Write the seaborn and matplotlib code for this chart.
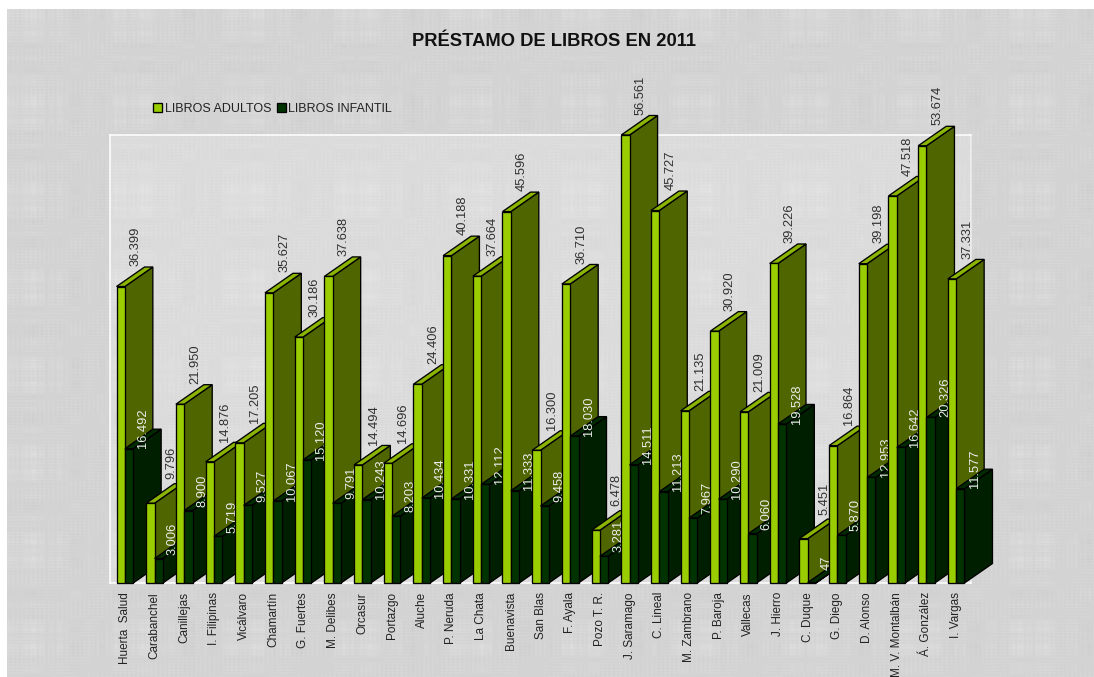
import numpy as np
import pandas as pd
import matplotlib
matplotlib.use("Agg")
import matplotlib.pyplot as plt
from matplotlib.patches import Polygon
import seaborn as sns

sucursales = ["Huerta  Salud", "Carabanchel", "Canillejas", "I. Filipinas", "Vicálvaro",
              "Chamartín", "G. Fuertes", "M. Delibes", "Orcasur", "Portazgo", "Aluche",
              "P. Neruda", "La Chata", "Buenavista", "San Blas", "F. Ayala", "Pozo T. R.",
              "J. Saramago", "C. Lineal", "M. Zambrano", "P. Baroja", "Vallecas", "J. Hierro",
              "C. Duque", "G. Diego", "D. Alonso", "M. V. Montalbán", "Á. González", "I. Vargas"]
libros_adultos = [36399, 9796, 21950, 14876, 17205, 35627, 30186, 37638, 14494, 14696,
                  24406, 40188, 37664, 45596, 16300, 36710, 6478, 56561, 45727, 21135,
                  30920, 21009, 39226, 5451, 16864, 39198, 47518, 53674, 37331]
libros_infantil = [16492, 3006, 8900, 5719, 9527, 10067, 15120, 9791, 10243, 8203,
                   10434, 10331, 12112, 11333, 9458, 18030, 3281, 14511, 11213, 7967,
                   10290, 6060, 19528, 47, 5870, 12953, 16642, 20326, 11577]
series_names = ["LIBROS ADULTOS", "LIBROS INFANTIL"]

Y_MAX = 55000
W, H = 1094, 677

sns.set_theme(style="white")
plt.rcParams["font.family"] = ["Liberation Sans", "DejaVu Sans"]

fig = plt.figure(figsize=(W / 100, H / 100), dpi=100, facecolor="white")


def px_axes(x0, y0, x1, y1, **kw):
    return fig.add_axes([x0 / W, 1 - y1 / H, (x1 - x0) / W, (y1 - y0) / H], **kw)


# Woven grey backdrop (purely decorative, deterministic)
bg = px_axes(7, 9, W, H, zorder=-5)
yy, xx = np.mgrid[0:H - 9, 0:W - 7]
ux = xx * 2 * np.pi / 256
uy = yy * 2 * np.pi / 116
col = np.sin(ux * 2.3 + 0.4) + 0.7 * np.sin(ux * 9.1 + 2.1) + 0.6 * np.sin(ux * 29.7 + 1.3) * np.sin(ux * 1.7)
row = np.sin(uy * 1.3 + 1.1) + 0.7 * np.sin(uy * 5.3 + 0.3) + 0.6 * np.sin(uy * 13.9 + 2.5) * np.sin(uy * 0.7)
texture = (212 + 0.8 * col + 0.8 * row + 1.3 * col * row
           + 0.9 * np.sin(ux * 57.3) * (1 + np.sin(uy * 2.9 + ux * 1.1))
           + 0.9 * np.sin(uy * 37.1) * (1 + np.sin(ux * 4.7 + uy * 0.9)))
bg.imshow(texture, cmap="gray", vmin=0, vmax=255, aspect="auto", interpolation="bilinear")
bg.axis("off")

# Plot area
PX_L, PX_T, PX_R, PX_B = 110, 135, 971, 583
ax = px_axes(PX_L, PX_T, PX_R, PX_B, zorder=1)
ax.patch.set_facecolor("white")
ax.patch.set_alpha(0.2)

df = pd.DataFrame({
    "sucursal": sucursales * 2,
    "serie": [series_names[0]] * len(sucursales) + [series_names[1]] * len(sucursales),
    "prestamos": libros_adultos + libros_infantil,
})
front = {series_names[0]: "#9ACD00", series_names[1]: "#003300"}
side = ["#4F6500", "#001F00"]
top = ["#8AB400", "#002A00"]
label_col = ["#303030", "#EDEDED"]
label_rise = [40, 20]   # px above the bar top

sns.barplot(data=df, x="sucursal", y="prestamos", hue="serie", order=sucursales,
            hue_order=series_names, palette=front, width=0.56, saturation=1,
            edgecolor="black", linewidth=0.95, ax=ax, legend=True)

ax.set_xlim(-0.5, 28.5)
ax.set_ylim(0, Y_MAX)
ax.set_xlabel("")
ax.set_ylabel("")
ax.set_yticks([])
ax.tick_params(axis="x", length=0, pad=6.5, labelsize=8.5, labelcolor="#222222")
for t in ax.get_xticklabels():
    t.set_rotation(90)
    t.set_ha("center")
    t.set_va("top")

for s in ax.spines.values():
    s.set_color("white")
    s.set_linewidth(1.1)
    s.set_visible(True)
ax.spines["right"].set_alpha(0.6)

# Extrude the bars (oblique depth measured in pixels, converted to data units)
xu = (PX_R - PX_L) / 29
yu = (PX_B - PX_T) / Y_MAX
dx, dy = 28 / xu, 19.5 / yu
edge = dict(edgecolor="black", linewidth=0.95, clip_on=False, joinstyle="miter")

for s_i, cont in enumerate(ax.containers):
    for i, bar in enumerate(cont.patches):
        raw = int(round(bar.get_height()))
        h = min(raw, Y_MAX)
        bar.set_height(h)
        bar.set_clip_on(False)
        base_z = 5 + i * 10 + s_i * 4
        bar.set_zorder(base_z + 2)
        x0 = bar.get_x()
        x1 = x0 + bar.get_width()
        ax.add_patch(Polygon([(x1, 0), (x1 + dx, dy), (x1 + dx, h + dy), (x1, h)],
                             closed=True, facecolor=side[s_i], zorder=base_z, **edge))
        ax.add_patch(Polygon([(x0, h), (x1, h), (x1 + dx, h + dy), (x0 + dx, h + dy)],
                             closed=True, facecolor=top[s_i], zorder=base_z + 1, **edge))
        shift = 18.5 if s_i == 1 else (25 if raw < 10000 else 19.5)
        ax.text(x0 + shift / xu, h + label_rise[s_i] / yu, f"{raw:,}".replace(",", "."),
                rotation=90, ha="center", va="center", fontsize=9.3,
                color=label_col[s_i], zorder=base_z + 3, clip_on=False)

# Legend
handles, labels = ax.get_legend_handles_labels()
ax.get_legend().remove()
leg = fig.legend(handles, labels, ncol=2, frameon=False, fontsize=9.0,
                 loc="center left", bbox_to_anchor=(153 / W, 1 - 108.5 / H),
                 handlelength=0.75, handleheight=0.75, handletextpad=0.2,
                 columnspacing=0.42, labelcolor="#222222", borderpad=0, borderaxespad=0)

fig.text(553.5 / W, 1 - 45.5 / H, "PRÉSTAMO DE LIBROS EN 2011", ha="center", va="baseline",
         fontsize=13.2, fontweight="bold", color="#111111")

fig.savefig("out.png", dpi=100, facecolor="white")
